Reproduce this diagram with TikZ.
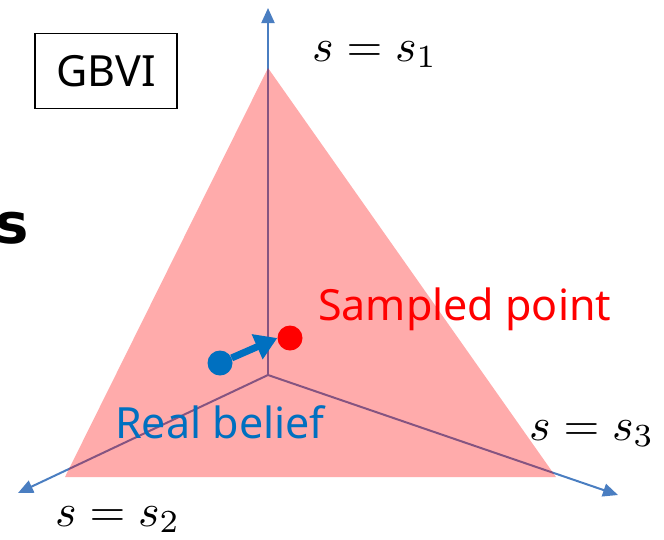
\documentclass[tikz,border=0pt]{standalone}
\usepackage{fontspec}
\newfontfamily\labfont{Noto Sans}
\newfontfamily\heavyfont{DejaVu Sans}
\usetikzlibrary{arrows.meta}
\definecolor{axisblue}{RGB}{74,126,193}
\definecolor{dotblue}{RGB}{0,112,192}
\definecolor{dotred}{RGB}{255,0,0}
\tikzset{
  axis/.style={draw=axisblue, line width=2pt, -{Triangle[length=15pt,width=13pt]}},
  sanslab/.style={font=\labfont\fontsize{43}{48}\selectfont, inner sep=0pt},
  mathlab/.style={inner sep=0pt, anchor=base west},
  dot/.style={circle, inner sep=0pt, minimum size=25pt}
}
\newcommand{\bigmath}[1]{\scalebox{4.6}{$#1$}}
\begin{document}
\begin{tikzpicture}[x=1pt,y=-1pt]
\useasboundingbox (0,0) rectangle (664,539);
% axes
\coordinate (O) at (268,375);
\coordinate (A1) at (268,8);
\coordinate (A2) at (18,493);
\coordinate (A3) at (618,495);
\draw[axis] (O) -- (A1);
\draw[axis] (O) -- (A2);
\draw[axis] (O) -- (A3);
% simplex triangle
\coordinate (T1) at (268,68);
\coordinate (T2) at (65,477);
\coordinate (T3) at (556,477);
\fill[red, opacity=0.33] (T1) -- (T2) -- (T3) -- cycle;
% labels
\node[mathlab] (l1) at (312,61) {\bigmath{s=s_1}};
\node[mathlab] (l2) at (55,526) {\bigmath{s=s_2}};
\node[mathlab] (l3) at (529,440) {\bigmath{s=s_3}};
% box
\node[sanslab, draw=black, line width=1.5pt, minimum width=142pt, minimum height=75pt] (gbvi) at (106,71) {GBVI};
% partial bold letter
\node[font=\heavyfont\bfseries\fontsize{56}{60}\selectfont, inner sep=0pt, anchor=base east] (cut) at (29,243) {s};
% points
\node[dot, fill=dotblue] (rb) at (220,363) {};
\node[dot, fill=dotred] (sp) at (290,338) {};
\draw[dotblue, line width=7pt, -{Triangle[length=22pt,width=26pt]}] (rb) -- (sp.west);
\node[sanslab, text=dotred, anchor=base west] (spl) at (318,320) {Sampled point};
\node[sanslab, text=dotblue, anchor=base west] (rbl) at (115,438) {Real belief};
\end{tikzpicture}
\end{document}
